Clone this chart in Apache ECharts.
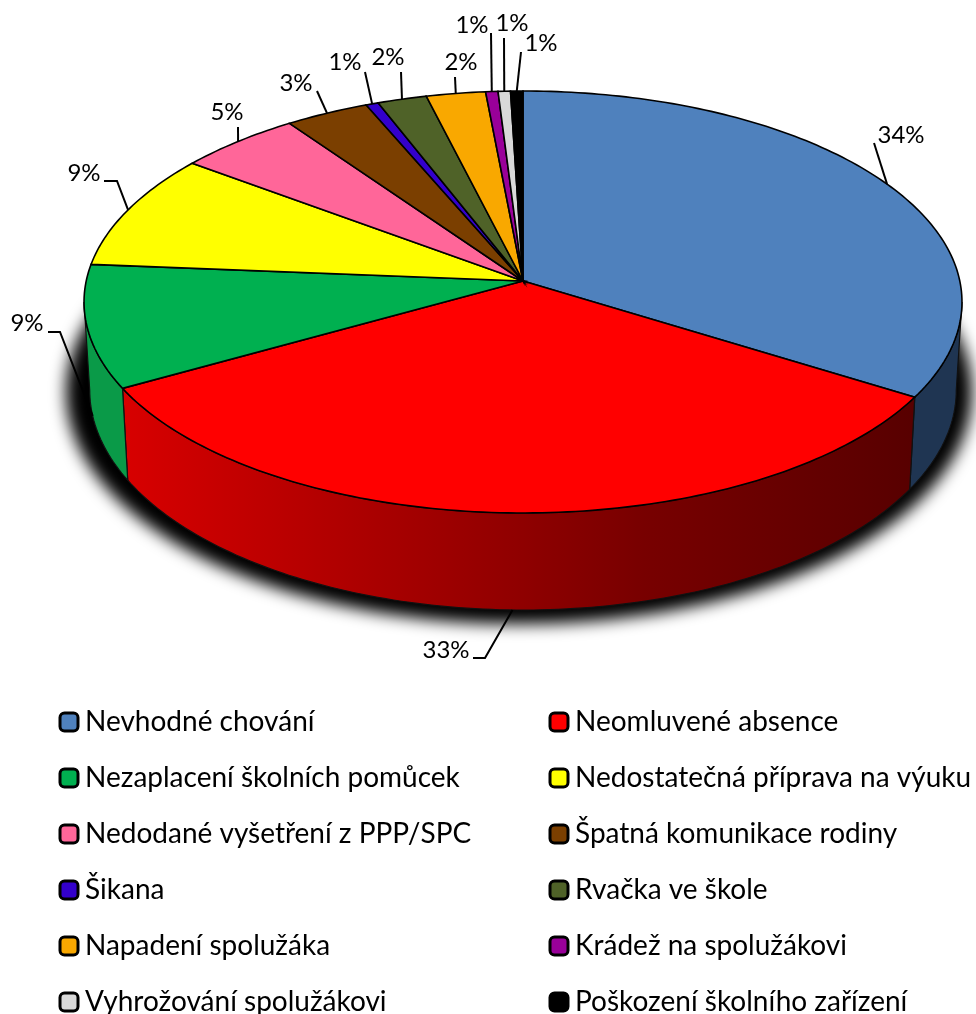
<!DOCTYPE html>
<html>
<head>
<meta charset="utf-8">
<style>
html,body{margin:0;padding:0;background:#fff;}
#chart{width:976px;height:1014px;}
</style>
<script src="https://cdn.jsdelivr.net/npm/echarts@6/dist/echarts.min.js"></script>
</head>
<body>
<div id="chart"></div>
<script>
let categories = ['Nevhodné chování','Neomluvené absence','Nezaplacení školních pomůcek','Nedostatečná příprava na výuku','Nedodané vyšetření z PPP/SPC','Špatná komunikace rodiny','Šikana','Rvačka ve škole','Napadení spolužáka','Krádež na spolužákovi','Vyhrožování spolužákovi','Poškození školního zařízení'];
let values = [33.8,33.0,9.4,8.9,5.0,3.4,0.5,2.0,2.4,0.5,0.5,0.5];
let colors = ['#4f81bd','#ff0000','#00b050','#ffff00','#ff6699','#7b3f00','#3300cc','#4f6228','#f9a800','#990099','#d9d9d9','#000000'];
let wallColors = ['#1f3552',null,'#0a9a48'];

//label text centre + where the leader line leaves the text
let labelPos = [[901,135],[446,650],[27,323],[84,173],[227,112],[296,83],[345,62],[388,57],[461,62],[472,25],[512,23],[541,43]];
let leaderEnds = [[[874,143]],[[473,658],[485,658]],[[48,332],[60,332]],[[104,181],[117,181]],[[238,127]],[[317,91]],[[365,72]],[[401,72]],[[455,77]],[[491,33]],[[504,38]],[[521,52]]];

//projection of the pie disc
let apexX = 523, apexY = 281;
let scaleX = 436.8, scaleY = 208.9, persp = 0.0995;
let depth = 87.4, bottomShrink = 0.987;

function project(deg, bottom){
    let t = deg*Math.PI/180;
    let u = Math.sin(t), v = Math.cos(t);
    let w = 1+persp*v;
    let x = apexX+scaleX*u/w;
    let y = apexY-scaleY*v/w;
    if(bottom){
        x = apexX+scaleX*bottomShrink*u/w;
        y = y+depth/w;
    }
    return [x,y];
}

let total = values.reduce((a,b)=>a+b,0);
let starts = [];
let acc = 0;
values.forEach((v)=>{
    starts.push(acc/total*360);
    acc += v;
});
//the wall is visible between the two side extremes of the ellipse
let wallFrom = Math.acos(-persp)*180/Math.PI;
let wallTo = 360-wallFrom;

function arc(a,b,bottom){
    let pts = [];
    let n = Math.max(2,Math.ceil(Math.abs(b-a)));
    for(let i=0;i<=n;i++){
        pts.push(project(a+(b-a)*i/n,bottom));
    }
    return pts;
}

let redGradient = new echarts.graphic.LinearGradient(123,0,911,0,[
    {offset:0,color:'#d80000'},
    {offset:0.33,color:'#a80000'},
    {offset:0.5,color:'#900000'},
    {offset:0.66,color:'#780000'},
    {offset:1,color:'#580000'}
],true);

function renderSlice(index){
    return function(params,api){
        let a = starts[index];
        let b = a+api.value(0)/total*360;
        let children = [];
        let from = Math.max(a,wallFrom), to = Math.min(b,wallTo);
        if(to>from){
            let wall = arc(from,to,false).concat(arc(from,to,true).reverse());
            children.push({
                type:'polygon',
                shape:{points:wall},
                style:{fill:wallColors[index]||redGradient,stroke:'#111',lineWidth:1.2}
            });
        }
        let top = [[apexX,apexY]].concat(arc(a,b,false));
        children.push({
            type:'polygon',
            shape:{points:top},
            style:{fill:colors[index],stroke:'#000',lineWidth:1.6}
        });
        let mid = (a+b)/2;
        let start = project(mid,mid>wallFrom&&mid<wallTo);
        children.push({
            type:'polyline',
            shape:{points:[start].concat(leaderEnds[index].slice().reverse())},
            style:{fill:null,stroke:'#000',lineWidth:2}
        });
        children.push({
            type:'text',
            style:{
                x:labelPos[index][0],y:labelPos[index][1],
                text:Math.round(api.value(0))+'%',
                fill:'#000',font:'24px Lato',align:'center',verticalAlign:'middle'
            }
        });
        return {type:'group',children:children};
    };
}

//soft shadow only: the shape itself sits off the page, its blur is offset back
function renderShadow(){
    let pts = [];
    let off = 3000;
    for(let i=0;i<360;i+=2){
        let t = i*Math.PI/180;
        pts.push([519+453*Math.sin(t)-off,392-232*Math.cos(t)]);
    }
    return {
        type:'group',
        children:[{
            type:'polygon',
            shape:{points:pts},
            style:{fill:'#000',shadowBlur:16,shadowColor:'#000',shadowOffsetX:off}
        }]
    };
}

let series = [{
    type:'custom',
    name:'stin',
    coordinateSystem:'none',
    silent:true,
    data:[0],
    renderItem:renderShadow
}];
categories.forEach((name,i)=>{
    series.push({
        type:'custom',
        name:name,
        coordinateSystem:'none',
        silent:true,
        itemStyle:{color:colors[i]},
        data:[values[i]],
        renderItem:renderSlice(i)
    });
});

function legendColumn(left,rem){
    return {
        orient:'vertical',
        left:left,
        top:708,
        height:400,
        padding:0,
        itemWidth:18,
        itemHeight:18,
        itemGap:28,
        icon:'roundRect',
        selectedMode:false,
        itemStyle:{borderColor:'#000',borderWidth:3},
        textStyle:{fontFamily:'Lato',fontSize:28,color:'#000',padding:[0,0,0,2]},
        data:categories.filter((c,i)=>i%2==rem)
    };
}

let myChart = echarts.init(document.getElementById('chart'));
myChart.setOption({
    backgroundColor:'#fff',
    animation:false,
    legend:[legendColumn(58.5,0),legendColumn(548.5,1)],
    series:series
});
</script>
</body>
</html>
